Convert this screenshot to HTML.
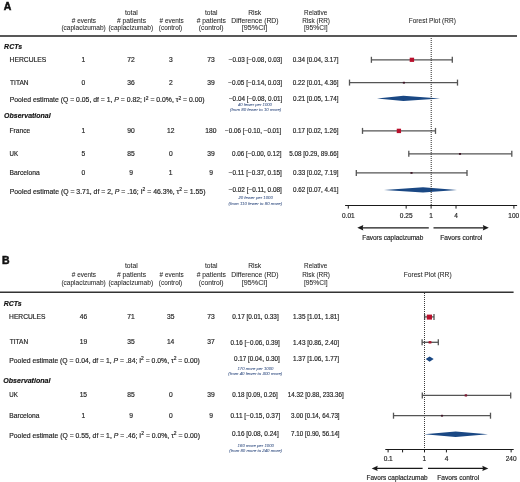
<!DOCTYPE html>
<html><head><meta charset="utf-8"><style>
html,body{margin:0;padding:0;background:#fff;overflow:hidden;}
svg{display:block;font-family:"Liberation Sans", sans-serif;will-change:transform;}
</style></head><body>
<svg width="520" height="482" viewBox="0 0 520 482">
<rect width="520" height="482" fill="#fff"/>
<line x1="0.00" y1="36" x2="517.00" y2="36" stroke="#585858" stroke-width="2"/>
<line x1="345.10" y1="205.5" x2="517.10" y2="205.5" stroke="#1a1a1a" stroke-width="1.1"/>
<line x1="348.30" y1="205.5" x2="348.30" y2="208.6" stroke="#1a1a1a" stroke-width="1"/>
<line x1="406.17" y1="205.5" x2="406.17" y2="208.6" stroke="#1a1a1a" stroke-width="1"/>
<line x1="431.10" y1="205.5" x2="431.10" y2="208.6" stroke="#1a1a1a" stroke-width="1"/>
<line x1="456.03" y1="205.5" x2="456.03" y2="208.6" stroke="#1a1a1a" stroke-width="1"/>
<line x1="513.90" y1="205.5" x2="513.90" y2="208.6" stroke="#1a1a1a" stroke-width="1"/>
<line x1="361.30" y1="227.8" x2="428.80" y2="227.8" stroke="#1a1a1a" stroke-width="1.3"/>
<polygon points="357.3,227.8 363.3,225.10000000000002 362.6,227.8 363.3,230.5" fill="#1a1a1a"/>
<line x1="433.50" y1="227.8" x2="484.80" y2="227.8" stroke="#1a1a1a" stroke-width="1.3"/>
<polygon points="488.8,227.8 482.8,225.10000000000002 483.5,227.8 482.8,230.5" fill="#1a1a1a"/>
<line x1="371.40" y1="59.8" x2="452.30" y2="59.8" stroke="#555" stroke-width="1.3"/>
<line x1="371.40" y1="56.8" x2="371.40" y2="62.8" stroke="#555" stroke-width="1.3"/>
<line x1="452.30" y1="56.8" x2="452.30" y2="62.8" stroke="#555" stroke-width="1.3"/>
<rect x="409.70" y="57.70" width="4.4" height="4.2" fill="#b8102c"/>
<line x1="349.50" y1="82.6" x2="457.50" y2="82.6" stroke="#555" stroke-width="1.3"/>
<line x1="349.50" y1="79.6" x2="349.50" y2="85.6" stroke="#555" stroke-width="1.3"/>
<line x1="457.50" y1="79.6" x2="457.50" y2="85.6" stroke="#555" stroke-width="1.3"/>
<rect x="402.85" y="81.81" width="2.1" height="1.785" fill="#3e1626"/>
<polygon points="377,98.4 403.4,95.7 440,98.4 403.4,101.10000000000001" fill="#1a4884"/>
<line x1="362.50" y1="130.9" x2="435.50" y2="130.9" stroke="#555" stroke-width="1.3"/>
<line x1="362.50" y1="127.9" x2="362.50" y2="133.9" stroke="#555" stroke-width="1.3"/>
<line x1="435.50" y1="127.9" x2="435.50" y2="133.9" stroke="#555" stroke-width="1.3"/>
<rect x="396.75" y="128.70" width="4.3" height="4.4" fill="#b8102c"/>
<line x1="408.80" y1="153.8" x2="511.80" y2="153.8" stroke="#555" stroke-width="1.3"/>
<line x1="408.80" y1="150.8" x2="408.80" y2="156.8" stroke="#555" stroke-width="1.3"/>
<line x1="511.80" y1="150.8" x2="511.80" y2="156.8" stroke="#555" stroke-width="1.3"/>
<rect x="458.95" y="153.01" width="2.1" height="1.785" fill="#3e1626"/>
<line x1="356.30" y1="172.9" x2="467.00" y2="172.9" stroke="#555" stroke-width="1.3"/>
<line x1="356.30" y1="169.9" x2="356.30" y2="175.9" stroke="#555" stroke-width="1.3"/>
<line x1="467.00" y1="169.9" x2="467.00" y2="175.9" stroke="#555" stroke-width="1.3"/>
<rect x="410.45" y="172.01" width="2.1" height="1.785" fill="#3e1626"/>
<polygon points="384,189.9 423,187.20000000000002 457,189.9 423,192.6" fill="#1a4884"/>
<line x1="431.20" y1="38" x2="431.20" y2="205" stroke="#2a2a2a" stroke-width="1" stroke-dasharray="1 1"/>
<line x1="0.00" y1="292.25" x2="513.60" y2="292.25" stroke="#333" stroke-width="1.5"/>
<line x1="385.30" y1="449.5" x2="513.70" y2="449.5" stroke="#1a1a1a" stroke-width="1.1"/>
<line x1="388.10" y1="449.5" x2="388.10" y2="452.4" stroke="#1a1a1a" stroke-width="1"/>
<line x1="402.59" y1="449.5" x2="402.59" y2="452.4" stroke="#1a1a1a" stroke-width="1"/>
<line x1="424.50" y1="449.5" x2="424.50" y2="452.4" stroke="#1a1a1a" stroke-width="1"/>
<line x1="446.41" y1="449.5" x2="446.41" y2="452.4" stroke="#1a1a1a" stroke-width="1"/>
<line x1="511.14" y1="449.5" x2="511.14" y2="452.4" stroke="#1a1a1a" stroke-width="1"/>
<line x1="375.70" y1="468.4" x2="422.60" y2="468.4" stroke="#1a1a1a" stroke-width="1.3"/>
<polygon points="371.7,468.4 377.7,465.7 377.0,468.4 377.7,471.09999999999997" fill="#1a1a1a"/>
<line x1="428.00" y1="468.4" x2="484.30" y2="468.4" stroke="#1a1a1a" stroke-width="1.3"/>
<polygon points="488.3,468.4 482.3,465.7 483.0,468.4 482.3,471.09999999999997" fill="#1a1a1a"/>
<line x1="424.60" y1="316.9" x2="434.00" y2="316.9" stroke="#555" stroke-width="1.3"/>
<line x1="424.60" y1="313.9" x2="424.60" y2="319.9" stroke="#555" stroke-width="1.3"/>
<line x1="434.00" y1="313.9" x2="434.00" y2="319.9" stroke="#555" stroke-width="1.3"/>
<rect x="426.80" y="314.60" width="5.2" height="5" fill="#b8102c"/>
<line x1="422.10" y1="342.3" x2="438.30" y2="342.3" stroke="#555" stroke-width="1.3"/>
<line x1="422.10" y1="339.3" x2="422.10" y2="345.3" stroke="#555" stroke-width="1.3"/>
<line x1="438.30" y1="339.3" x2="438.30" y2="345.3" stroke="#555" stroke-width="1.3"/>
<rect x="428.60" y="341.10" width="2.8" height="2.4" fill="#a8142c"/>
<polygon points="425.7,359.1 429.6,356.40000000000003 433.7,359.1 429.6,361.8" fill="#1a4884"/>
<line x1="422.30" y1="395.4" x2="510.70" y2="395.4" stroke="#555" stroke-width="1.3"/>
<line x1="422.30" y1="392.4" x2="422.30" y2="398.4" stroke="#555" stroke-width="1.3"/>
<line x1="510.70" y1="392.4" x2="510.70" y2="398.4" stroke="#555" stroke-width="1.3"/>
<rect x="464.70" y="394.30" width="2.4" height="2.2" fill="#7a1830"/>
<line x1="393.50" y1="415.7" x2="490.50" y2="415.7" stroke="#555" stroke-width="1.3"/>
<line x1="393.50" y1="412.7" x2="393.50" y2="418.7" stroke="#555" stroke-width="1.3"/>
<line x1="490.50" y1="412.7" x2="490.50" y2="418.7" stroke="#555" stroke-width="1.3"/>
<rect x="440.95" y="414.81" width="2.1" height="1.785" fill="#3e1626"/>
<polygon points="424.2,434.2 455.6,431.4 488,434.2 455.6,437.0" fill="#1a4884"/>
<line x1="424.50" y1="293" x2="424.50" y2="449" stroke="#3a3a3a" stroke-width="1" stroke-dasharray="1 1"/>
<text x="3.65" y="9.6" font-size="10.5" fill="#111" textLength="7.58" lengthAdjust="spacingAndGlyphs" style="font-weight:bold" stroke="#111" stroke-width="0.5">A</text>
<text x="71.80" y="22.6" font-size="6.7" fill="#262626" textLength="24.22" lengthAdjust="spacingAndGlyphs" stroke="#262626" stroke-width="0.06"># events</text>
<text x="61.41" y="30.2" font-size="6.7" fill="#262626" textLength="44.31" lengthAdjust="spacingAndGlyphs" stroke="#262626" stroke-width="0.06">(caplacizumab)</text>
<text x="124.90" y="14.6" font-size="6.7" fill="#262626" textLength="12.87" lengthAdjust="spacingAndGlyphs" stroke="#262626" stroke-width="0.06">total</text>
<text x="117.00" y="22.6" font-size="6.7" fill="#262626" textLength="29.05" lengthAdjust="spacingAndGlyphs" stroke="#262626" stroke-width="0.06"># patients</text>
<text x="108.41" y="30.2" font-size="6.7" fill="#262626" textLength="44.72" lengthAdjust="spacingAndGlyphs" stroke="#262626" stroke-width="0.06">(caplacizumab)</text>
<text x="159.60" y="22.6" font-size="6.7" fill="#262626" textLength="24.12" lengthAdjust="spacingAndGlyphs" stroke="#262626" stroke-width="0.06"># events</text>
<text x="158.82" y="30.2" font-size="6.7" fill="#262626" textLength="23.44" lengthAdjust="spacingAndGlyphs" stroke="#262626" stroke-width="0.06">(control)</text>
<text x="204.90" y="14.6" font-size="6.7" fill="#262626" textLength="12.56" lengthAdjust="spacingAndGlyphs" stroke="#262626" stroke-width="0.06">total</text>
<text x="196.70" y="22.6" font-size="6.7" fill="#262626" textLength="29.16" lengthAdjust="spacingAndGlyphs" stroke="#262626" stroke-width="0.06"># patients</text>
<text x="198.80" y="30.2" font-size="6.7" fill="#262626" textLength="24.68" lengthAdjust="spacingAndGlyphs" stroke="#262626" stroke-width="0.06">(control)</text>
<text x="248.20" y="14.6" font-size="6.7" fill="#262626" textLength="13.03" lengthAdjust="spacingAndGlyphs" stroke="#262626" stroke-width="0.06">Risk</text>
<text x="231.39" y="22.6" font-size="6.7" fill="#262626" textLength="47.13" lengthAdjust="spacingAndGlyphs" stroke="#262626" stroke-width="0.06">Difference (RD)</text>
<text x="241.76" y="30.2" font-size="6.7" fill="#262626" textLength="25.60" lengthAdjust="spacingAndGlyphs" stroke="#262626" stroke-width="0.06">[95%CI]</text>
<text x="304.12" y="14.6" font-size="6.7" fill="#262626" textLength="23.17" lengthAdjust="spacingAndGlyphs" stroke="#262626" stroke-width="0.06">Relative</text>
<text x="302.22" y="22.6" font-size="6.7" fill="#262626" textLength="27.79" lengthAdjust="spacingAndGlyphs" stroke="#262626" stroke-width="0.06">Risk (RR)</text>
<text x="303.95" y="30.2" font-size="6.7" fill="#262626" stroke="#262626" stroke-width="0.06">[95%CI]</text>
<text x="408.71" y="22.8" font-size="6.7" fill="#262626" textLength="47.17" lengthAdjust="spacingAndGlyphs" stroke="#262626" stroke-width="0.06">Forest Plot (RR)</text>
<text x="4.10" y="48.8" font-size="6.8" fill="#111" textLength="18.01" lengthAdjust="spacingAndGlyphs" style="font-weight:bold;font-style:italic" stroke="#111" stroke-width="0.15">RCTs</text>
<text x="9.60" y="61.6" font-size="6.7" fill="#262626" textLength="36.69" lengthAdjust="spacingAndGlyphs" stroke="#262626" stroke-width="0.18">HERCULES</text>
<text x="81.55" y="61.6" font-size="6.7" fill="#262626" stroke="#262626" stroke-width="0.18">1</text>
<text x="127.30" y="61.6" font-size="6.7" fill="#262626" stroke="#262626" stroke-width="0.18">72</text>
<text x="168.95" y="61.6" font-size="6.7" fill="#262626" stroke="#262626" stroke-width="0.18">3</text>
<text x="207.25" y="61.6" font-size="6.7" fill="#262626" stroke="#262626" stroke-width="0.18">73</text>
<text x="228.72" y="61.5" font-size="6.7" fill="#262626" textLength="53.32" lengthAdjust="spacingAndGlyphs" stroke="#262626" stroke-width="0.18">&#8722;0.03 [&#8722;0.08, 0.03]</text>
<text x="292.82" y="61.5" font-size="6.7" fill="#262626" textLength="45.79" lengthAdjust="spacingAndGlyphs" stroke="#262626" stroke-width="0.18">0.34 [0.04, 3.17]</text>
<text x="10.10" y="84.8" font-size="6.7" fill="#262626" textLength="18.44" lengthAdjust="spacingAndGlyphs" stroke="#262626" stroke-width="0.18">TITAN</text>
<text x="81.60" y="84.8" font-size="6.7" fill="#262626" stroke="#262626" stroke-width="0.18">0</text>
<text x="127.25" y="84.8" font-size="6.7" fill="#262626" stroke="#262626" stroke-width="0.18">36</text>
<text x="168.95" y="84.8" font-size="6.7" fill="#262626" stroke="#262626" stroke-width="0.18">2</text>
<text x="207.30" y="84.8" font-size="6.7" fill="#262626" stroke="#262626" stroke-width="0.18">39</text>
<text x="228.21" y="84.6" font-size="6.7" fill="#262626" textLength="53.82" lengthAdjust="spacingAndGlyphs" stroke="#262626" stroke-width="0.18">&#8722;0.05 [&#8722;0.14, 0.03]</text>
<text x="292.82" y="84.6" font-size="6.7" fill="#262626" textLength="45.79" lengthAdjust="spacingAndGlyphs" stroke="#262626" stroke-width="0.18">0.22 [0.01, 4.36]</text>
<text x="9.68" y="102.2" font-size="6.7" fill="#262626" textLength="194.91" lengthAdjust="spacingAndGlyphs" stroke="#262626" stroke-width="0.18">Pooled estimate (Q = 0.05, df = 1, <tspan font-style="italic">P</tspan> = 0.82; I<tspan dy="-2.6" font-size="4.8">2</tspan><tspan dy="2.6"> = 0.0%, &#964;</tspan><tspan dy="-2.6" font-size="4.8">2</tspan><tspan dy="2.6"> = 0.00)</tspan></text>
<text x="228.92" y="100.8" font-size="6.7" fill="#262626" textLength="53.32" lengthAdjust="spacingAndGlyphs" stroke="#262626" stroke-width="0.18">&#8722;0.04 [&#8722;0.08, 0.01]</text>
<text x="292.92" y="100.8" font-size="6.7" fill="#262626" textLength="45.69" lengthAdjust="spacingAndGlyphs" stroke="#262626" stroke-width="0.18">0.21 [0.05, 1.74]</text>
<text x="237.90" y="105.6" font-size="4.4" fill="#4d6592" textLength="34.07" lengthAdjust="spacingAndGlyphs" style="font-style:italic" stroke="#4d6592" stroke-width="0.1">40 fewer per 1000</text>
<text x="230.00" y="111.1" font-size="4.4" fill="#4d6592" textLength="51.28" lengthAdjust="spacingAndGlyphs" style="font-style:italic" stroke="#4d6592" stroke-width="0.1">(from 80 fewer to 10 more)</text>
<text x="4.09" y="117.8" font-size="6.8" fill="#111" textLength="46.55" lengthAdjust="spacingAndGlyphs" style="font-weight:bold;font-style:italic" stroke="#111" stroke-width="0.15">Observational</text>
<text x="9.50" y="133.1" font-size="6.7" fill="#262626" textLength="20.65" lengthAdjust="spacingAndGlyphs" stroke="#262626" stroke-width="0.18">France</text>
<text x="81.55" y="133.2" font-size="6.7" fill="#262626" stroke="#262626" stroke-width="0.18">1</text>
<text x="127.25" y="133.2" font-size="6.7" fill="#262626" stroke="#262626" stroke-width="0.18">90</text>
<text x="167.00" y="133.2" font-size="6.7" fill="#262626" stroke="#262626" stroke-width="0.18">12</text>
<text x="205.30" y="133.2" font-size="6.7" fill="#262626" stroke="#262626" stroke-width="0.18">180</text>
<text x="225.12" y="133.3" font-size="6.7" fill="#262626" textLength="56.22" lengthAdjust="spacingAndGlyphs" stroke="#262626" stroke-width="0.18">&#8722;0.06 [&#8722;0.10, &#8722;0.01]</text>
<text x="292.72" y="133.3" font-size="6.7" fill="#262626" textLength="45.69" lengthAdjust="spacingAndGlyphs" stroke="#262626" stroke-width="0.18">0.17 [0.02, 1.26]</text>
<text x="9.54" y="156.2" font-size="6.7" fill="#262626" textLength="8.56" lengthAdjust="spacingAndGlyphs" stroke="#262626" stroke-width="0.18">UK</text>
<text x="81.60" y="156.2" font-size="6.7" fill="#262626" stroke="#262626" stroke-width="0.18">5</text>
<text x="127.25" y="156.2" font-size="6.7" fill="#262626" stroke="#262626" stroke-width="0.18">85</text>
<text x="168.90" y="156.2" font-size="6.7" fill="#262626" stroke="#262626" stroke-width="0.18">0</text>
<text x="207.30" y="156.2" font-size="6.7" fill="#262626" stroke="#262626" stroke-width="0.18">39</text>
<text x="232.02" y="155.6" font-size="6.7" fill="#262626" textLength="49.40" lengthAdjust="spacingAndGlyphs" stroke="#262626" stroke-width="0.18">0.06 [&#8722;0.00, 0.12]</text>
<text x="289.22" y="155.6" font-size="6.7" fill="#262626" textLength="49.21" lengthAdjust="spacingAndGlyphs" stroke="#262626" stroke-width="0.18">5.08 [0.29, 89.66]</text>
<text x="9.50" y="175.2" font-size="6.7" fill="#262626" textLength="30.27" lengthAdjust="spacingAndGlyphs" stroke="#262626" stroke-width="0.18">Barcelona</text>
<text x="81.60" y="175.2" font-size="6.7" fill="#262626" stroke="#262626" stroke-width="0.18">0</text>
<text x="129.15" y="175.2" font-size="6.7" fill="#262626" stroke="#262626" stroke-width="0.18">9</text>
<text x="168.85" y="175.2" font-size="6.7" fill="#262626" stroke="#262626" stroke-width="0.18">1</text>
<text x="209.15" y="175.2" font-size="6.7" fill="#262626" stroke="#262626" stroke-width="0.18">9</text>
<text x="228.71" y="174.9" font-size="6.7" fill="#262626" textLength="53.12" lengthAdjust="spacingAndGlyphs" stroke="#262626" stroke-width="0.18">&#8722;0.11 [&#8722;0.37, 0.15]</text>
<text x="292.92" y="174.9" font-size="6.7" fill="#262626" textLength="45.48" lengthAdjust="spacingAndGlyphs" stroke="#262626" stroke-width="0.18">0.33 [0.02, 7.19]</text>
<text x="9.67" y="193.6" font-size="6.7" fill="#262626" textLength="195.82" lengthAdjust="spacingAndGlyphs" stroke="#262626" stroke-width="0.18">Pooled estimate (Q = 3.71, df = 2, <tspan font-style="italic">P</tspan> = .16; I<tspan dy="-2.6" font-size="4.8">2</tspan><tspan dy="2.6"> = 46.3%, &#964;</tspan><tspan dy="-2.6" font-size="4.8">2</tspan><tspan dy="2.6"> = 1.55)</tspan></text>
<text x="228.71" y="192" font-size="6.7" fill="#262626" textLength="53.12" lengthAdjust="spacingAndGlyphs" stroke="#262626" stroke-width="0.18">&#8722;0.02 [&#8722;0.11, 0.08]</text>
<text x="292.92" y="192" font-size="6.7" fill="#262626" textLength="45.48" lengthAdjust="spacingAndGlyphs" stroke="#262626" stroke-width="0.18">0.62 [0.07, 4.41]</text>
<text x="238.40" y="198.6" font-size="4.4" fill="#4d6592" textLength="34.47" lengthAdjust="spacingAndGlyphs" style="font-style:italic" stroke="#4d6592" stroke-width="0.1">20 fewer per 1000</text>
<text x="228.50" y="204.6" font-size="4.4" fill="#4d6592" textLength="53.70" lengthAdjust="spacingAndGlyphs" style="font-style:italic" stroke="#4d6592" stroke-width="0.1">(from 110 fewer to 80 more)</text>
<text x="342.05" y="217.6" font-size="6.5" fill="#262626" stroke="#262626" stroke-width="0.18">0.01</text>
<text x="399.87" y="217.6" font-size="6.5" fill="#262626" stroke="#262626" stroke-width="0.18">0.25</text>
<text x="429.20" y="217.6" font-size="6.5" fill="#262626" stroke="#262626" stroke-width="0.18">1</text>
<text x="454.28" y="217.6" font-size="6.5" fill="#262626" stroke="#262626" stroke-width="0.18">4</text>
<text x="508.35" y="217.6" font-size="6.5" fill="#262626" stroke="#262626" stroke-width="0.18">100</text>
<text x="362.22" y="239.7" font-size="6.7" fill="#262626" textLength="61.08" lengthAdjust="spacingAndGlyphs" stroke="#262626" stroke-width="0.18">Favors caplacizumab</text>
<text x="440.30" y="239.7" font-size="6.7" fill="#262626" textLength="42.04" lengthAdjust="spacingAndGlyphs" stroke="#262626" stroke-width="0.18">Favors control</text>
<text x="2.10" y="264.1" font-size="10.5" fill="#111" textLength="7.58" lengthAdjust="spacingAndGlyphs" style="font-weight:bold" stroke="#111" stroke-width="0.5">B</text>
<text x="71.80" y="277.0" font-size="6.7" fill="#262626" textLength="24.22" lengthAdjust="spacingAndGlyphs" stroke="#262626" stroke-width="0.06"># events</text>
<text x="61.41" y="284.9" font-size="6.7" fill="#262626" textLength="44.31" lengthAdjust="spacingAndGlyphs" stroke="#262626" stroke-width="0.06">(caplacizumab)</text>
<text x="124.90" y="268.1" font-size="6.7" fill="#262626" textLength="12.87" lengthAdjust="spacingAndGlyphs" stroke="#262626" stroke-width="0.06">total</text>
<text x="117.00" y="277.0" font-size="6.7" fill="#262626" textLength="29.05" lengthAdjust="spacingAndGlyphs" stroke="#262626" stroke-width="0.06"># patients</text>
<text x="108.41" y="284.9" font-size="6.7" fill="#262626" textLength="44.72" lengthAdjust="spacingAndGlyphs" stroke="#262626" stroke-width="0.06">(caplacizumab)</text>
<text x="159.60" y="277.0" font-size="6.7" fill="#262626" textLength="24.12" lengthAdjust="spacingAndGlyphs" stroke="#262626" stroke-width="0.06"># events</text>
<text x="158.82" y="284.9" font-size="6.7" fill="#262626" textLength="23.44" lengthAdjust="spacingAndGlyphs" stroke="#262626" stroke-width="0.06">(control)</text>
<text x="204.90" y="268.1" font-size="6.7" fill="#262626" textLength="12.56" lengthAdjust="spacingAndGlyphs" stroke="#262626" stroke-width="0.06">total</text>
<text x="196.70" y="277.0" font-size="6.7" fill="#262626" textLength="29.16" lengthAdjust="spacingAndGlyphs" stroke="#262626" stroke-width="0.06"># patients</text>
<text x="198.80" y="284.9" font-size="6.7" fill="#262626" textLength="24.68" lengthAdjust="spacingAndGlyphs" stroke="#262626" stroke-width="0.06">(control)</text>
<text x="248.20" y="268.1" font-size="6.7" fill="#262626" textLength="13.03" lengthAdjust="spacingAndGlyphs" stroke="#262626" stroke-width="0.06">Risk</text>
<text x="231.39" y="277.0" font-size="6.7" fill="#262626" textLength="47.13" lengthAdjust="spacingAndGlyphs" stroke="#262626" stroke-width="0.06">Difference (RD)</text>
<text x="241.76" y="284.9" font-size="6.7" fill="#262626" textLength="25.60" lengthAdjust="spacingAndGlyphs" stroke="#262626" stroke-width="0.06">[95%CI]</text>
<text x="304.12" y="268.1" font-size="6.7" fill="#262626" textLength="23.17" lengthAdjust="spacingAndGlyphs" stroke="#262626" stroke-width="0.06">Relative</text>
<text x="302.22" y="277.0" font-size="6.7" fill="#262626" textLength="27.79" lengthAdjust="spacingAndGlyphs" stroke="#262626" stroke-width="0.06">Risk (RR)</text>
<text x="303.95" y="284.9" font-size="6.7" fill="#262626" stroke="#262626" stroke-width="0.06">[95%CI]</text>
<text x="403.71" y="276.6" font-size="6.7" fill="#262626" textLength="47.89" lengthAdjust="spacingAndGlyphs" stroke="#262626" stroke-width="0.06">Forest Plot (RR)</text>
<text x="3.70" y="306.1" font-size="6.8" fill="#111" textLength="18.01" lengthAdjust="spacingAndGlyphs" style="font-weight:bold;font-style:italic" stroke="#111" stroke-width="0.15">RCTs</text>
<text x="9.10" y="319.4" font-size="6.7" fill="#262626" textLength="36.28" lengthAdjust="spacingAndGlyphs" stroke="#262626" stroke-width="0.18">HERCULES</text>
<text x="79.85" y="319.4" font-size="6.7" fill="#262626" stroke="#262626" stroke-width="0.18">46</text>
<text x="127.30" y="319.4" font-size="6.7" fill="#262626" stroke="#262626" stroke-width="0.18">71</text>
<text x="167.05" y="319.4" font-size="6.7" fill="#262626" stroke="#262626" stroke-width="0.18">35</text>
<text x="207.25" y="319.4" font-size="6.7" fill="#262626" stroke="#262626" stroke-width="0.18">73</text>
<text x="232.21" y="319.1" font-size="6.7" fill="#262626" textLength="46.50" lengthAdjust="spacingAndGlyphs" stroke="#262626" stroke-width="0.18">0.17 [0.01, 0.33]</text>
<text x="293.02" y="319.1" font-size="6.7" fill="#262626" textLength="46.08" lengthAdjust="spacingAndGlyphs" stroke="#262626" stroke-width="0.18">1.35 [1.01, 1.81]</text>
<text x="9.70" y="344.4" font-size="6.7" fill="#262626" textLength="18.44" lengthAdjust="spacingAndGlyphs" stroke="#262626" stroke-width="0.18">TITAN</text>
<text x="79.70" y="344.4" font-size="6.7" fill="#262626" stroke="#262626" stroke-width="0.18">19</text>
<text x="127.25" y="344.4" font-size="6.7" fill="#262626" stroke="#262626" stroke-width="0.18">35</text>
<text x="166.90" y="344.4" font-size="6.7" fill="#262626" stroke="#262626" stroke-width="0.18">14</text>
<text x="207.30" y="344.4" font-size="6.7" fill="#262626" stroke="#262626" stroke-width="0.18">37</text>
<text x="230.52" y="344.5" font-size="6.7" fill="#262626" textLength="49.30" lengthAdjust="spacingAndGlyphs" stroke="#262626" stroke-width="0.18">0.16 [&#8722;0.06, 0.39]</text>
<text x="293.02" y="344.5" font-size="6.7" fill="#262626" textLength="46.08" lengthAdjust="spacingAndGlyphs" stroke="#262626" stroke-width="0.18">1.43 [0.86, 2.40]</text>
<text x="9.28" y="362.6" font-size="6.7" fill="#262626" textLength="190.48" lengthAdjust="spacingAndGlyphs" stroke="#262626" stroke-width="0.18">Pooled estimate (Q = 0.04, df = 1, <tspan font-style="italic">P</tspan> = .84; I<tspan dy="-2.6" font-size="4.8">2</tspan><tspan dy="2.6"> = 0.0%, &#964;</tspan><tspan dy="-2.6" font-size="4.8">2</tspan><tspan dy="2.6"> = 0.00)</tspan></text>
<text x="233.92" y="361.2" font-size="6.7" fill="#262626" textLength="45.89" lengthAdjust="spacingAndGlyphs" stroke="#262626" stroke-width="0.18">0.17 [0.04, 0.30]</text>
<text x="293.02" y="361.2" font-size="6.7" fill="#262626" textLength="46.08" lengthAdjust="spacingAndGlyphs" stroke="#262626" stroke-width="0.18">1.37 [1.06, 1.77]</text>
<text x="237.40" y="369.9" font-size="4.4" fill="#4d6592" textLength="35.98" lengthAdjust="spacingAndGlyphs" style="font-style:italic" stroke="#4d6592" stroke-width="0.1">170 more per 1000</text>
<text x="228.30" y="375.1" font-size="4.4" fill="#4d6592" textLength="54.03" lengthAdjust="spacingAndGlyphs" style="font-style:italic" stroke="#4d6592" stroke-width="0.1">(from 40 fewer to 300 more)</text>
<text x="3.29" y="382.7" font-size="6.8" fill="#111" textLength="47.16" lengthAdjust="spacingAndGlyphs" style="font-weight:bold;font-style:italic" stroke="#111" stroke-width="0.15">Observational</text>
<text x="9.34" y="397.3" font-size="6.7" fill="#262626" textLength="8.56" lengthAdjust="spacingAndGlyphs" stroke="#262626" stroke-width="0.18">UK</text>
<text x="79.65" y="397.3" font-size="6.7" fill="#262626" stroke="#262626" stroke-width="0.18">15</text>
<text x="127.25" y="397.3" font-size="6.7" fill="#262626" stroke="#262626" stroke-width="0.18">85</text>
<text x="168.90" y="397.3" font-size="6.7" fill="#262626" stroke="#262626" stroke-width="0.18">0</text>
<text x="207.30" y="397.3" font-size="6.7" fill="#262626" stroke="#262626" stroke-width="0.18">39</text>
<text x="232.32" y="397.4" font-size="6.7" fill="#262626" textLength="45.38" lengthAdjust="spacingAndGlyphs" stroke="#262626" stroke-width="0.18">0.18 [0.09, 0.26]</text>
<text x="287.83" y="397.4" font-size="6.7" fill="#262626" textLength="55.95" lengthAdjust="spacingAndGlyphs" stroke="#262626" stroke-width="0.18">14.32 [0.88, 233.36]</text>
<text x="9.30" y="418" font-size="6.7" fill="#262626" textLength="30.27" lengthAdjust="spacingAndGlyphs" stroke="#262626" stroke-width="0.18">Barcelona</text>
<text x="81.55" y="418" font-size="6.7" fill="#262626" stroke="#262626" stroke-width="0.18">1</text>
<text x="129.15" y="418" font-size="6.7" fill="#262626" stroke="#262626" stroke-width="0.18">9</text>
<text x="168.90" y="418" font-size="6.7" fill="#262626" stroke="#262626" stroke-width="0.18">0</text>
<text x="209.15" y="418" font-size="6.7" fill="#262626" stroke="#262626" stroke-width="0.18">9</text>
<text x="230.51" y="418.1" font-size="6.7" fill="#262626" textLength="49.81" lengthAdjust="spacingAndGlyphs" stroke="#262626" stroke-width="0.18">0.11 [&#8722;0.15, 0.37]</text>
<text x="291.12" y="418.1" font-size="6.7" fill="#262626" textLength="48.50" lengthAdjust="spacingAndGlyphs" stroke="#262626" stroke-width="0.18">3.00 [0.14, 64.73]</text>
<text x="9.28" y="437.9" font-size="6.7" fill="#262626" textLength="190.68" lengthAdjust="spacingAndGlyphs" stroke="#262626" stroke-width="0.18">Pooled estimate (Q = 0.55, df = 1, <tspan font-style="italic">P</tspan> = .46; I<tspan dy="-2.6" font-size="4.8">2</tspan><tspan dy="2.6"> = 0.0%, &#964;</tspan><tspan dy="-2.6" font-size="4.8">2</tspan><tspan dy="2.6"> = 0.00)</tspan></text>
<text x="231.91" y="436.1" font-size="6.7" fill="#262626" textLength="46.80" lengthAdjust="spacingAndGlyphs" stroke="#262626" stroke-width="0.18">0.16 [0.08, 0.24]</text>
<text x="291.12" y="436.1" font-size="6.7" fill="#262626" textLength="48.50" lengthAdjust="spacingAndGlyphs" stroke="#262626" stroke-width="0.18">7.10 [0.90, 56.14]</text>
<text x="237.60" y="446.5" font-size="4.4" fill="#4d6592" textLength="36.38" lengthAdjust="spacingAndGlyphs" style="font-style:italic" stroke="#4d6592" stroke-width="0.1">160 more per 1000</text>
<text x="229.20" y="452.2" font-size="4.4" fill="#4d6592" textLength="52.79" lengthAdjust="spacingAndGlyphs" style="font-style:italic" stroke="#4d6592" stroke-width="0.1">(from 80 more to 240 more)</text>
<text x="383.65" y="461.4" font-size="6.5" fill="#262626" stroke="#262626" stroke-width="0.18">0.1</text>
<text x="422.60" y="461.4" font-size="6.5" fill="#262626" stroke="#262626" stroke-width="0.18">1</text>
<text x="444.66" y="461.4" font-size="6.5" fill="#262626" stroke="#262626" stroke-width="0.18">4</text>
<text x="505.69" y="461.4" font-size="6.5" fill="#262626" stroke="#262626" stroke-width="0.18">240</text>
<text x="366.52" y="479.8" font-size="6.7" fill="#262626" textLength="61.08" lengthAdjust="spacingAndGlyphs" stroke="#262626" stroke-width="0.18">Favors caplacizumab</text>
<text x="437.21" y="479.6" font-size="6.7" fill="#262626" textLength="41.94" lengthAdjust="spacingAndGlyphs" stroke="#262626" stroke-width="0.18">Favors control</text>
</svg></body></html>
